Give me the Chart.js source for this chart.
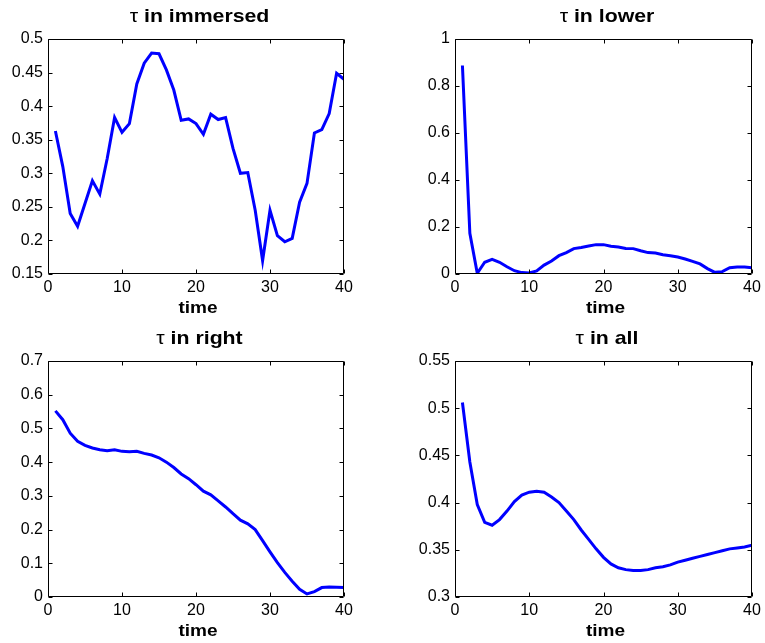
<!DOCTYPE html>
<html>
<head>
<meta charset="utf-8">
<script src="https://cdn.jsdelivr.net/npm/chart.js@4"></script>
<style>
  html, body { margin: 0; padding: 0; background: #fff; }
  #wrap { position: relative; width: 765px; height: 643px; overflow: hidden; }
  canvas { position: absolute; }
</style>
</head>
<body>
<div id="wrap">
  <canvas id="c1" width="380" height="320" style="left:0px;top:0px"></canvas>
  <canvas id="c2" width="358" height="320" style="left:407px;top:0px"></canvas>
  <canvas id="c3" width="380" height="321" style="left:0px;top:322px"></canvas>
  <canvas id="c4" width="358" height="321" style="left:407px;top:322px"></canvas>
</div>
<script>
// time steps
const time = [1,2,3,4,5,6,7,8,9,10,11,12,13,14,15,16,17,18,19,20,
              21,22,23,24,25,26,27,28,29,30,31,32,33,34,35,36,37,38,39,40];

// tau per region
const tauImmersed = [0.363,0.310,0.240,0.221,0.255,0.289,0.269,0.322,0.383,0.361,
                     0.374,0.433,0.464,0.479,0.478,0.454,0.424,0.379,0.381,0.374,
                     0.358,0.388,0.380,0.383,0.337,0.300,0.301,0.245,0.170,0.245,
                     0.207,0.198,0.203,0.257,0.285,0.360,0.365,0.389,0.449,0.440];
const tauLower    = [0.887,0.173,0.003,0.050,0.062,0.050,0.031,0.014,0.006,0.004,
                     0.013,0.038,0.055,0.078,0.091,0.108,0.113,0.119,0.125,0.125,
                     0.118,0.115,0.109,0.108,0.099,0.091,0.089,0.082,0.078,0.072,
                     0.064,0.054,0.043,0.023,0.007,0.010,0.027,0.030,0.030,0.027];
const tauRight    = [0.552,0.526,0.486,0.462,0.450,0.442,0.437,0.434,0.437,0.432,
                     0.431,0.432,0.426,0.421,0.413,0.400,0.384,0.365,0.351,0.333,
                     0.314,0.303,0.285,0.267,0.247,0.228,0.217,0.200,0.167,0.134,
                     0.102,0.073,0.047,0.023,0.009,0.016,0.028,0.030,0.029,0.028];
const tauAll      = [0.506,0.443,0.398,0.379,0.376,0.382,0.391,0.401,0.408,0.411,
                     0.412,0.411,0.406,0.400,0.391,0.382,0.371,0.361,0.351,0.342,
                     0.335,0.331,0.329,0.328,0.328,0.329,0.331,0.332,0.334,0.337,
                     0.339,0.341,0.343,0.345,0.347,0.349,0.351,0.352,0.353,0.355];

// axis ticks
const xTicks = [0,10,20,30,40];
const yTicksImmersed = [0.15,0.2,0.25,0.3,0.35,0.4,0.45,0.5];
const yTicksLower    = [0,0.2,0.4,0.6,0.8,1];
const yTicksRight    = [0,0.1,0.2,0.3,0.4,0.5,0.6,0.7];
const yTicksAll      = [0.3,0.35,0.4,0.45,0.5,0.55];

const FONT = "'Liberation Sans', Arial, Helvetica, sans-serif";
const X_LABEL = 'time';

// closed axes box with inward tick marks on all four sides
const boxPlugin = {
  id: 'matlabBox',
  afterDraw(chart) {
    const { ctx, chartArea: a, scales } = chart;
    const L = Math.round(a.left) + 0.5, R = Math.round(a.right) - 0.5;
    const T = Math.round(a.top) + 0.5, B = Math.round(a.bottom) - 0.5;
    const len = 4;
    ctx.save();
    ctx.strokeStyle = '#000';
    ctx.lineWidth = 1;
    ctx.beginPath();
    ctx.rect(L, T, R - L, B - T);
    scales.x.ticks.forEach(t => {
      const px = Math.round(scales.x.getPixelForValue(t.value)) + 0.5;
      ctx.moveTo(px, B); ctx.lineTo(px, B - len);
      ctx.moveTo(px, T); ctx.lineTo(px, T + len);
    });
    scales.y.ticks.forEach(t => {
      const py = Math.round(scales.y.getPixelForValue(t.value)) + 0.5;
      ctx.moveTo(L, py); ctx.lineTo(L + len, py);
      ctx.moveTo(R, py); ctx.lineTo(R - len, py);
    });
    ctx.stroke();
    ctx.restore();
  }
};

// slightly widened bold title above the axes and x label below them
const WIDE = 1.12;
function drawWide(ctx, parts, cx, baseline) {
  ctx.save();
  ctx.textBaseline = 'alphabetic';
  ctx.textAlign = 'left';
  ctx.fillStyle = '#000';
  let total = 0;
  parts.forEach(p => { ctx.font = p.font; p.w = ctx.measureText(p.text).width; total += p.w; });
  ctx.translate(cx, baseline);
  ctx.scale(WIDE, 1);
  let x = -total / 2;
  parts.forEach(p => { ctx.font = p.font; ctx.fillText(p.text, x, 0); x += p.w; });
  ctx.restore();
}
const textPlugin = {
  id: 'matlabText',
  afterDraw(chart, args, opts) {
    const { ctx, chartArea: a } = chart;
    const cx = (a.left + a.right) / 2;
    drawWide(ctx, [
      { text: 'τ', font: `normal 19px ${FONT}` },
      { text: opts.title, font: `bold 19px ${FONT}` }
    ], cx + 3.5, 22);
    drawWide(ctx, [{ text: X_LABEL, font: `bold 17px ${FONT}` }], cx + 2, a.bottom + 38.5);
  }
};

function makeChart(id, title, values, yTicks, padRight) {
  const fmt = v => String(Number(v.toFixed(2)));
  return new Chart(document.getElementById(id), {
    type: 'line',
    data: {
      datasets: [{
        data: time.map((t, i) => ({ x: t, y: values[i] })),
        borderColor: '#0000ff',
        borderWidth: 3,
        pointRadius: 0,
        tension: 0,
        fill: false
      }]
    },
    options: {
      responsive: false,
      animation: false,
      devicePixelRatio: 1,
      layout: { padding: { left: 0, right: padRight, top: 39, bottom: 0 } },
      plugins: {
        legend: { display: false },
        tooltip: { enabled: false },
        title: { display: false },
        matlabText: { title: title }
      },
      scales: {
        x: {
          type: 'linear',
          min: xTicks[0],
          max: xTicks[xTicks.length - 1],
          afterBuildTicks: s => { s.ticks = xTicks.map(v => ({ value: v })); },
          afterFit: s => { s.height = 46; },
          grid: { display: false, drawTicks: false },
          border: { display: false },
          ticks: {
            color: '#000',
            padding: 4,
            maxRotation: 0,
            font: { family: FONT, size: 16 },
            callback: v => fmt(v)
          }
        },
        y: {
          type: 'linear',
          min: yTicks[0],
          max: yTicks[yTicks.length - 1],
          afterBuildTicks: s => { s.ticks = yTicks.map(v => ({ value: v })); },
          afterFit: s => { s.width = 48; },
          grid: { display: false, drawTicks: false },
          border: { display: false },
          ticks: {
            color: '#000',
            padding: 5,
            font: { family: FONT, size: 16 },
            callback: v => fmt(v)
          }
        }
      }
    },
    plugins: [boxPlugin, textPlugin]
  });
}

makeChart('c1', ' in immersed', tauImmersed, yTicksImmersed, 36);
makeChart('c2', ' in lower',    tauLower,    yTicksLower,    13);
makeChart('c3', ' in right',    tauRight,    yTicksRight,    36);
makeChart('c4', ' in all',      tauAll,      yTicksAll,      13);
</script>
</body>
</html>
